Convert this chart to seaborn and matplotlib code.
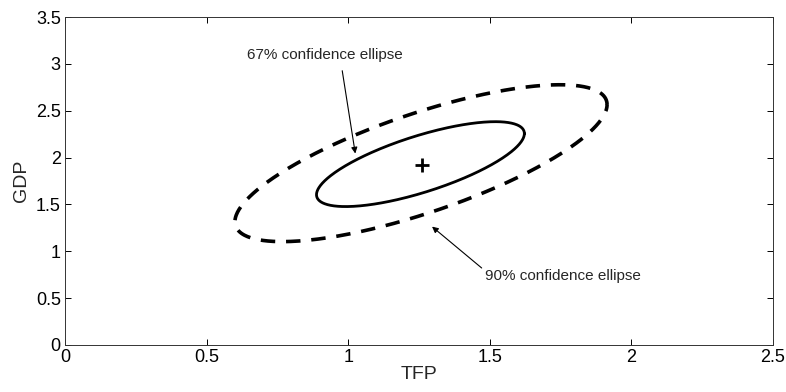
import numpy as np
import pandas as pd
import matplotlib
matplotlib.use("Agg")
import matplotlib.pyplot as plt
import seaborn as sns

# ---- data ----
centre = [1.26, 1.92]                      # point estimate (TFP, GDP)
ellipse_names = ["67% confidence ellipse", "90% confidence ellipse"]
ellipse_cx = [1.255, 1.257]
ellipse_cy = [1.93, 1.94]
ellipse_sx = [0.367, 0.657]                # half extent along TFP
ellipse_sy = [0.453, 0.837]                # half extent along GDP
ellipse_rho = [0.72, 0.746]                # correlation
x_ticks = [0, 0.5, 1, 1.5, 2, 2.5]
y_ticks = [0, 0.5, 1, 1.5, 2, 2.5, 3, 3.5]

sns.set_theme(style="white")
plt.rcParams['font.family'] = ['Liberation Sans', 'DejaVu Sans']

fig = plt.figure(figsize=(7.86, 3.92), dpi=100)
ax = fig.add_axes([0.0827, 0.12, 0.9008, 0.8366])

t = np.linspace(0, 2 * np.pi, 400)
frames = []
for name, cx, cy, sx, sy, r in zip(ellipse_names, ellipse_cx, ellipse_cy,
                                   ellipse_sx, ellipse_sy, ellipse_rho):
    frames.append(pd.DataFrame({
        "TFP": cx + sx * np.cos(t),
        "GDP": cy + sy * (r * np.cos(t) + np.sqrt(1 - r * r) * np.sin(t)),
        "level": name, "order": np.arange(len(t))}))
df = pd.concat(frames, ignore_index=True)

sns.lineplot(data=df[df.level == ellipse_names[0]], x="TFP", y="GDP", sort=False,
             color="black", lw=2.0, ax=ax, estimator=None)
sns.lineplot(data=df[df.level == ellipse_names[1]], x="TFP", y="GDP", sort=False,
             color="black", lw=2.6, ax=ax, estimator=None, dashes=False,
             linestyle=(0, (4, 3)))
sns.scatterplot(x=[centre[0]], y=[centre[1]], marker="+", s=110, color="black",
                linewidth=2.0, ax=ax)

ax.annotate(ellipse_names[0], xy=(1.025, 2.043), xytext=(0.919, 3.095),
            ha="center", va="center", fontsize=11,
            arrowprops=dict(arrowstyle="-|>", color="black", lw=0.8,
                            shrinkA=4, shrinkB=0, mutation_scale=9,
                            relpos=(0.6, 0.0)))
ax.annotate(ellipse_names[1], xy=(1.296, 1.263), xytext=(1.758, 0.74),
            ha="center", va="center", fontsize=11,
            arrowprops=dict(arrowstyle="-|>", color="black", lw=0.8,
                            shrinkA=0, shrinkB=0, mutation_scale=9,
                            relpos=(0.0, 0.85)))

ax.set_xlim(0, 2.5)
ax.set_ylim(0, 3.5)
ax.set_xticks(x_ticks)
ax.set_xticklabels([f"{v:g}" for v in x_ticks])
ax.set_yticks(y_ticks)
ax.set_yticklabels([f"{v:g}" for v in y_ticks])
ax.set_xlabel("TFP", fontsize=14, labelpad=0)
ax.set_ylabel("GDP", fontsize=14, labelpad=4)
ax.tick_params(direction="in", length=4, width=0.7, colors="black",
               labelsize=13, top=True, right=True, bottom=True, left=True, pad=3)
for s in ax.spines.values():
    s.set_color("#333333")
    s.set_linewidth(0.7)

fig.savefig("out.png", dpi=100)
